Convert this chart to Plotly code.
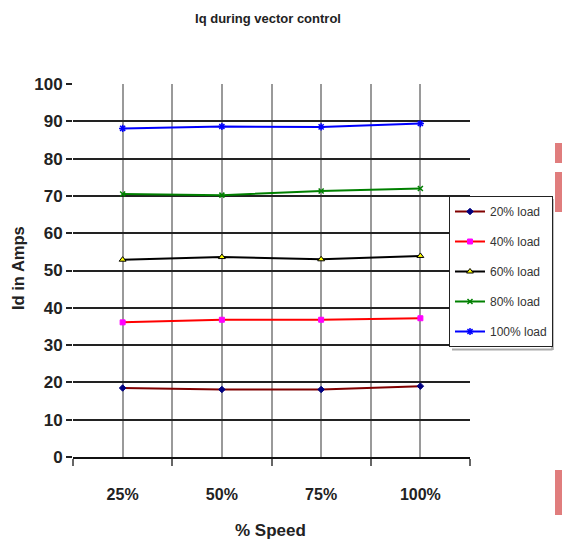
import plotly.graph_objects as go

# Speed settings (category axis) and measured current per load level
speeds = ["25%", "50%", "75%", "100%"]
load_20 = [18.5, 18.1, 18.1, 19.0]
load_40 = [36.1, 36.8, 36.8, 37.2]
load_60 = [52.9, 53.6, 53.0, 53.9]
load_80 = [70.5, 70.2, 71.3, 72.0]
load_100 = [88.1, 88.6, 88.5, 89.4]

y_ticks = [0, 10, 20, 30, 40, 50, 60, 70, 80, 90, 100]

series = [
    ("20% load", load_20, "#800000", dict(symbol="diamond", size=5, color="#000080",
                                          line=dict(color="#000080", width=1))),
    ("40% load", load_40, "#FF0000", dict(symbol="square", size=5, color="#FF00FF",
                                          line=dict(color="#FF00FF", width=1))),
    ("60% load", load_60, "#000000", dict(symbol="triangle-up", size=6, color="#FFFF00",
                                          line=dict(color="#000000", width=1))),
    ("80% load", load_80, "#008000", dict(symbol="x-thin-open", size=5, color="#008000",
                                          line=dict(color="#008000", width=1.5))),
    ("100% load", load_100, "#0000FF", dict(symbol="asterisk-open", size=6, color="#0000FF",
                                            line=dict(color="#0000FF", width=1.5))),
]

font_main = "Liberation Sans, Arial, sans-serif"

# plot-area geometry in pixels
L, R, T, B = 73, 470, 84, 457
PW, PH = R - L, B - T

def px_x(x):
    return (x - L) / PW

def px_y(y):
    return (B - y) / PH

fig = go.Figure()
x_pos = list(range(len(speeds)))
for i, (name, vals, col, mk) in enumerate(series):
    fig.add_trace(go.Scatter(
        x=x_pos, y=vals, name=name, mode="lines+markers",
        line=dict(color=col, width=2), marker=mk,
        legendgroup=f"g{i}",
    ))

fig.update_layout(
    width=562, height=542,
    margin=dict(l=L, r=562 - R, t=T, b=542 - B, autoexpand=False),
    paper_bgcolor="white", plot_bgcolor="white",
    title=dict(text="<b>Iq during vector control</b>", x=268 / 562, xref="container",
               xanchor="center", y=1 - 18 / 542, yref="container", yanchor="middle",
               font=dict(family=font_main, size=13, color="#222")),
    legend=dict(
        x=px_x(449), y=px_y(196), xanchor="left", yanchor="top",
        bgcolor="white", bordercolor="#222", borderwidth=1,
        font=dict(family=font_main, size=12, color="#333"),
        tracegroupgap=11, itemwidth=30,
    ),
    showlegend=True,
)

fig.update_xaxes(
    range=[-0.5, 3.5], tickmode="array", tickvals=x_pos, ticktext=speeds,
    showgrid=True, gridcolor="#9a9a9a", gridwidth=2,
    ticks="", ticklabelstandoff=22,
    tickfont=dict(family=font_main, size=16, color="#222", weight="bold"),
    minor=dict(tickmode="array", tickvals=[-0.5, 0.5, 1.5, 2.5, 3.5],
               showgrid=True, gridcolor="#9a9a9a", gridwidth=2,
               ticks="outside", ticklen=7, tickcolor="#666", tickwidth=2),
    showline=True, linecolor="#111", linewidth=1.5,
    zeroline=False, fixedrange=True,
)
fig.update_yaxes(
    range=[0, 100], tickmode="array", tickvals=y_ticks,
    showgrid=True, gridcolor="#222", gridwidth=1.5,
    ticks="outside", ticklen=6, tickcolor="#222", tickwidth=1.5,
    tickfont=dict(family=font_main, size=17, color="#222", weight="bold"),
    showline=False, zeroline=False, fixedrange=True,
)

fig.add_annotation(text="<b>Id in Amps</b>", textangle=-90, xref="paper", yref="paper",
                   x=px_x(18), y=px_y(268), showarrow=False,
                   xanchor="center", yanchor="middle",
                   font=dict(family=font_main, size=16.5, color="#222"))
fig.add_annotation(text="<b>% Speed</b>", xref="paper", yref="paper",
                   x=px_x(270), y=px_y(530), showarrow=False,
                   xanchor="center", yanchor="middle",
                   font=dict(family=font_main, size=17, color="#222"))

# Legend drop shadow (right and bottom edges)
fig.add_shape(type="line", xref="paper", yref="paper",
              x0=px_x(552.5), x1=px_x(552.5), y0=px_y(199), y1=px_y(350),
              line=dict(color="#aaaaaa", width=2.5))
fig.add_shape(type="line", xref="paper", yref="paper",
              x0=px_x(452), x1=px_x(552.5), y0=px_y(349.5), y1=px_y(349.5),
              line=dict(color="#aaaaaa", width=2))

# Pink page-edge marks on the right
pink = "#e07d7d"

def px_rect(x0, y0, x1, y1):
    fig.add_shape(type="rect", xref="paper", yref="paper",
                  x0=px_x(x0), x1=px_x(x1), y0=px_y(y0), y1=px_y(y1),
                  fillcolor=pink, line=dict(width=0), layer="above")

px_rect(555, 143, 562, 163)
px_rect(555, 172, 562, 212)
px_rect(555, 470, 562, 515)

fig.write_html("out.html")
